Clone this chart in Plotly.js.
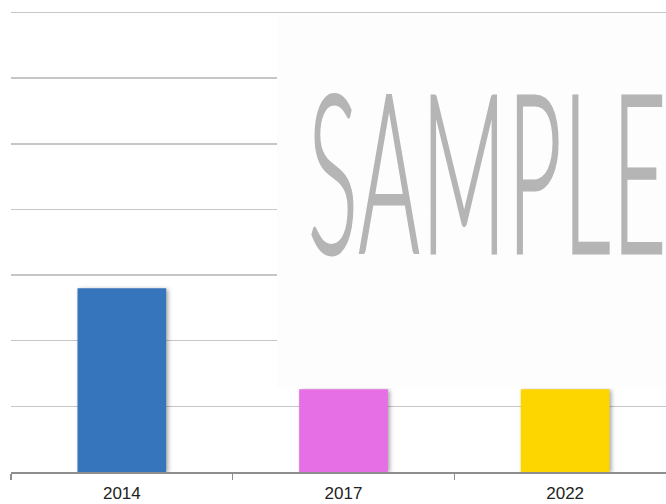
<!DOCTYPE html>
<html>
<head>
<meta charset="utf-8">
<script src="https://cdn.plot.ly/plotly-3.0.1.min.js"></script>
<style>
  html, body { margin: 0; padding: 0; background: #fff; overflow: hidden; }
  #wrap { position: relative; width: 666px; height: 504px; }
  #chart { width: 666px; height: 504px; }
  #wm {
    position: absolute; left: 308px; top: 56px;
    font-family: Lato, "Open Sans", sans-serif; font-weight: 300;
    font-size: 222px; line-height: 222px; color: #b5b5b5;
    transform-origin: left top; transform: scaleX(0.42);
    white-space: nowrap; pointer-events: none; letter-spacing: 4px;
    -webkit-text-stroke: 3px #b5b5b5;
  }
  .barlayer .point path { filter: drop-shadow(2px 1px 2px rgba(0,0,0,0.35)); }
</style>
</head>
<body>
<div id="wrap">
  <div id="chart"></div>
  <div id="wm">SAMPLE</div>
</div>
<script>
const categories = ["2014", "2017", "2022"];
const values = [2.8, 1.26, 1.26];
const barColors = ["#3674bc", "#e76fe6", "#fdd600"];
const watermarkText = "SAMPLE";

document.getElementById("wm").textContent = watermarkText;

const trace = {
  type: "bar",
  x: categories,
  y: values,
  width: 0.4,
  marker: { color: barColors, line: { width: 0 } },
  hoverinfo: "none"
};

const layout = {
  width: 666, height: 504,
  margin: { l: 11, r: 0, t: 6, b: 32, pad: 0 },
  paper_bgcolor: "#ffffff",
  plot_bgcolor: "#ffffff",
  showlegend: false,
  xaxis: {
    type: "category",
    range: [-0.5, 2.455],
    showline: true, linecolor: "#8e8e8e", linewidth: 2,
    ticks: "outside", tickson: "boundaries", ticklen: 6, tickwidth: 1.5, tickcolor: "#8e8e8e",
    showgrid: false,
    ticklabelstandoff: 5,
    tickfont: { family: "Liberation Sans, Arial, sans-serif", size: 17, color: "#222222" },
    fixedrange: true
  },
  yaxis: {
    range: [0, 7.1], dtick: 1,
    showticklabels: false, showline: false, zeroline: false,
    showgrid: true, gridcolor: "#c6c6c6", gridwidth: 1.5,
    ticks: "", fixedrange: true
  },
  shapes: [{
    type: "rect", xref: "paper", yref: "paper", layer: "above",
    x0: (277 - 11) / 655, x1: 1.01,
    y0: (472 - 388) / 466, y1: (472 - 14.5) / 466,
    fillcolor: "#fdfdfd", line: { width: 0 }
  }]
};

Plotly.newPlot("chart", [trace], layout, { displayModeBar: false, staticPlot: true });
</script>
</body>
</html>
